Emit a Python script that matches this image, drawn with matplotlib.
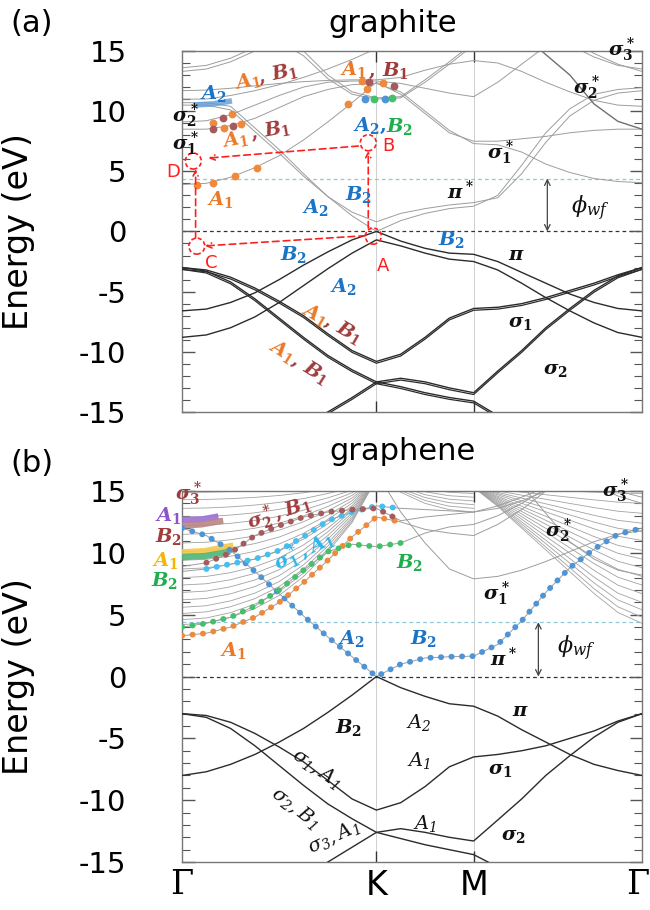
import numpy as np
import matplotlib
matplotlib.use('Agg')
import matplotlib.pyplot as plt
from matplotlib.patches import Ellipse
from matplotlib import transforms

plt.rcParams['font.family'] = 'DejaVu Sans'
plt.rcParams['axes.unicode_minus'] = False
plt.rcParams['mathtext.fontset'] = 'custom'
plt.rcParams['mathtext.it'] = 'DejaVu Serif:italic:bold'
plt.rcParams['mathtext.rm'] = 'DejaVu Serif:bold'
plt.rcParams['mathtext.bf'] = 'DejaVu Serif:bold'
plt.rcParams['mathtext.sf'] = 'DejaVu Serif:italic'

N = None

# k-path  Γ -> K -> M -> Γ
k = [0, 0.125, 0.25, 0.375, 0.5, 0.625, 0.75, 0.875, 1.0,
     1.125, 1.25, 1.375, 1.5,
     1.624, 1.747, 1.871, 1.995, 2.119, 2.242, 2.366]
k_ticks = [0, 1.0, 1.5, 2.366]
k_names = ['Γ', 'K', 'M', 'Γ']
e_fermi = 0.0
e_vac = 4.4

# ---------------- graphite (a) ----------------
a_pi1 = [-6.6, -6.45, -5.9, -5.1, -4.0, -2.8, -1.7, -0.7, 0.0, -0.8, -1.4, -1.8, -1.9, -2.5, -3.4, -4.3, -5.2, -5.9, -6.4, -6.6]
a_pi2 = [-8.8, -8.6, -8.0, -7.1, -5.9, -4.5, -3.1, -1.8, -0.7, -1.2, -1.8, -2.3, -2.5, -3.2, -4.3, -5.5, -6.6, -7.6, -8.4, -8.8]
a_s1 = [-3.0, -3.2, -3.8, -4.7, -5.8, -7.0, -8.5, -9.9, -10.8, -10.2, -8.8, -7.2, -6.4, -6.3, -6.0, -5.5, -4.9, -4.3, -3.6, -3.0]
a_s2 = [-3.0, -3.3, -4.2, -5.6, -7.2, -8.8, -10.3, -11.5, -12.5, -12.9, -13.4, -13.8, -14.1, -15.3, -16.4, -17.4, -18.3, -19.0, -19.5, -19.7]
a_s3 = [-19.5, -19.3, -18.8, -18.0, -17.1, -16.1, -15.0, -13.8, -12.5, -12.2, -12.5, -13.0, -13.4, -11.6, -9.9, -8.0, -6.4, -4.9, -3.7, -3.0]

a_p1 = [10.7, 10.7, 10.4, 8.6, 6.8, 4.8, 2.9, 1.3, 0.0, 0.9, 1.5, 1.9, 2.1, 3.0, 5.5, 8.2, 10.2, 11.4, 11.8, 11.95]
a_p2 = [10.5, 10.5, 10.1, 8.3, 6.5, 4.6, 2.9, 1.6, 0.8, 1.5, 1.9, 2.2, 2.4, 2.8, 4.8, 7.4, 9.6, 10.9, 11.5, 11.7]
a_g1 = [3.9, 4.0, 4.5, 5.3, 6.3, 7.6, 9.1, 10.7, 12.4, 11.4, 9.8, 8.2, 7.5, 7.5, 7.7, 7.9, 8.2, 8.4, 8.5, 8.5]
a_g2 = [8.5, 8.5, 8.8, 9.4, 10.3, 11.2, 11.8, 12.2, 12.3, 11.6, 10.0, 8.4, 7.3, 7.2, 6.6, 5.6, 4.9, 4.4, 4.15, 4.05]
a_g3 = [9.1, 9.2, 9.7, 10.5, 11.3, 12.0, 12.4, 12.5, 12.5, 12.3, 11.9, 11.5, 11.2, 12.4, 13.9, 15.4, N, N, N, N]
a_g4 = [11.7, 11.75, 11.9, 12.1, 12.3, 12.45, 12.55, 12.6, 12.6, 12.8, 13.4, 13.9, 14.2, 14.0, 13.3, 12.4, 11.6, 10.9, 10.5, 10.4]
a_g5 = [11.0, 11.0, 11.3, 11.7, 12.2, 12.8, 13.5, 14.3, 15.2, N, N, N, N, N, N, N, N, N, N, N]
a_g6 = [N, N, N, N, 15.8, 14.6, 12.7, 11.4, 11.0, 11.1, 12.4, 13.9, 15.5, N, N, N, N, N, N, N]
a_g7 = [N, N, N, N, 16.2, 15.0, 13.0, 11.6, 11.1, 11.2, 12.6, 14.1, 15.7, N, N, N, N, N, N, N]
a_t1 = [13.6, 13.8, 14.4, 15.3, 16.5, N, N, N, N, N, N, N, N, N, N, N, N, N, N, N]
a_t2 = [13.3, 13.5, 14.1, 15.0, 16.2, N, N, N, N, N, N, N, N, N, N, N, N, N, N, N]
a_s2c = [N, N, N, N, N, N, N, N, N, N, N, N, N, N, 16.5, 14.7, 13.0, 10.6, 9.15, 8.5]
a_s3c1 = [N, N, N, N, N, N, N, N, N, N, N, N, N, N, N, N, 15.5, 14.5, 13.8, 13.5]
a_s3c2 = [N, N, N, N, N, N, N, N, N, N, N, N, N, N, N, N, 15.9, 14.8, 13.9, 13.3]

# coloured symmetry dots on graphite bands (k, E)
a_dot_orange_k = [0.076, 0.161, 0.273, 0.387, 0.161, 0.259, 0.216, 0.303, 0.855, 0.950, 0.924, 1.036]
a_dot_orange_e = [3.9, 4.05, 4.6, 5.3, 9.0, 9.8, 8.6, 8.9, 10.6, 11.8, 12.5, 12.3]
a_dot_brown_k = [0.209, 0.161, 0.264, 0.963, 1.092]
a_dot_brown_e = [9.4, 8.5, 8.8, 12.4, 12.1]
a_dot_blue_k = [0.941, 1.044]
a_dot_blue_e = [11.0, 11.0]
a_dot_green_k = [0.990, 1.079]
a_dot_green_e = [11.0, 11.05]
a_bar_blue_k = [0.057, 0.16, 0.257]
a_bar_blue_e = [10.5, 10.6, 10.85]

# transition circles A, B, C, D (k, E)
circ_names = ['A', 'B', 'C', 'D']
circ_k = [0.984, 0.958, 0.076, 0.058]
circ_e = [-0.39, 7.37, -1.22, 5.85]

# ---------------- graphene (b) ----------------
b_pi = [-8.0, -7.7, -7.1, -6.3, -5.3, -4.2, -2.9, -1.5, 0.0, -0.9, -1.6, -2.2, -2.4, -3.2, -4.3, -5.3, -6.3, -7.1, -7.6, -8.0]
b_s1 = [-3.0, -3.15, -3.7, -4.6, -5.7, -6.9, -8.4, -9.9, -10.8, -10.2, -8.9, -7.3, -6.5, -6.3, -6.0, -5.6, -5.0, -4.4, -3.6, -3.0]
b_s2 = [-3.0, -3.3, -4.2, -5.6, -7.2, -8.8, -10.3, -11.5, -12.6, -13.1, -13.6, -14.0, -14.4, -15.4, -16.4, -17.4, -18.3, -19.0, -19.5, -19.7]
b_s3 = [-19.5, -19.3, -18.8, -18.0, -17.1, -16.1, -15.0, -13.8, -12.6, -12.3, -12.6, -13.0, -13.3, -11.6, -9.9, -8.0, -6.4, -4.9, -3.7, -3.0]

b_pistar = [12.0, 11.4, 10.2, 8.5, 6.7, 4.9, 3.2, 1.6, 0.0, 1.0, 1.5, 1.6, 1.65, 2.6, 4.5, 6.8, 8.8, 10.3, 11.5, 12.0]
b_a1 = [3.3, 3.5, 4.0, 4.8, 6.0, 7.6, 9.4, 11.3, 12.9, 12.5, 11.9, 11.6, 11.4, 12.3, 13.5, 15.0, N, N, N, N]
b_b2 = [4.0, 4.3, 4.8, 5.7, 7.0, 8.6, 10.1, 10.7, 10.5, 10.8, 11.6, 12.1, 12.3, 13.0, 14.0, 15.2, N, N, N, N]
b_s1a1 = [8.5, 8.7, 9.1, 9.5, 10.2, 11.3, 12.6, 13.3, 13.8, 13.6, 13.5, 13.4, 13.3, 13.6, 14.2, 15.0, N, N, N, N]
b_s2b1 = [8.9, 9.2, 10.0, 11.4, 12.2, 12.9, 13.3, 13.5, 13.6, 12.6, 12.9, 13.1, 13.3, 13.8, 14.5, 15.3, N, N, N, N]
b_s1c = [N, N, N, N, N, N, N, N, 16.5, 13.3, 10.8, 8.7, 7.9, 8.1, 8.6, 9.3, 10.1, 10.9, 11.5, 11.8]
b_s2c = [N, N, N, N, N, N, N, N, N, N, N, N, N, N, 15.5, 13.2, 10.9, 9.5, 8.6, 8.2]
b_s3c1 = [N, N, N, N, N, N, N, N, N, N, N, N, N, N, N, N, N, 15.5, 14.6, 14.0]
b_s3c2 = [N, N, N, N, N, N, N, N, N, N, N, N, N, N, N, N, N, 15.8, 15.0, 14.5]

# near-free-electron (vacuum) state families
b_fan_gk_e0 = [4.2, 4.6, 5.1, 5.6, 6.2, 6.8, 7.4, 8.0, 8.7, 9.4, 10.1, 10.8, 11.5, 12.2, 12.9, 13.6, 14.3, 14.9]
b_fan_gk_shape = [0, 0.012, 0.05, 0.11, 0.2, 0.33, 0.5, 0.7, 1.0]
b_fan_gk_top = 16.0
b_fan_mg_e0 = [4.3, 4.8, 5.4, 6.0, 6.7, 7.4, 8.1, 8.8, 9.5, 10.2, 11.0, 11.7, 12.4, 13.2, 14.0, 14.8]
b_fan_mg_shape = [1.0, 0.86, 0.70, 0.54, 0.38, 0.22, 0.08, 0.0]
b_fan_mg_top = 15.3
b_fan_km_em = [13.3, 13.6, 13.9, 14.2, 14.5, 14.8]
b_fan_km_shape = [1.0, 0.5, 0.22, 0.06, 0.0]
b_fan_km_top = 16.5

# coloured highlight bars at Γ (k, E)
b_bar_k = [[0, 0.1, 0.187], [0, 0.1, 0.212], [0, 0.12, 0.264], [0, 0.12, 0.247]]
b_bar_e = [[12.65, 12.7, 12.95], [12.2, 12.3, 12.6], [10.05, 10.15, 10.6], [9.65, 9.75, 10.1]]

ORANGE = '#ea7a28'
BROWN = '#a03c3c'
BLUE = '#1c74c6'
GREEN = '#20ad4e'
CYAN = '#2cb5ee'
PURPLE = '#8c55c8'
YELLOW = '#f2b705'
RED = '#ff1f1f'
DOT_BLUE = '#4f95d6'
DOT_ORANGE = '#ef8a3c'
DOT_GREEN = '#45c06a'
DOT_BROWN = '#a65a5c'
DOT_CYAN = '#45bff0'
VAL = '#2b2b2b'
CON = '#9d9d9d'

kk = np.array(k, dtype=float)


def arr(v):
    return np.array(v, dtype=float)


def dotted(ax, y, i0, i1, color):
    ax.plot(kk[i0:i1], arr(y)[i0:i1], color=color, lw=4.2, linestyle=(0, (0.05, 1.75)),
            dash_capstyle='round', zorder=5)


def setup(ax):
    ax.set_xlim(0, k[-1])
    ax.set_ylim(-15, 15)
    for kv in [1.0, 1.5]:
        ax.axvline(kv, color='#c8c8c8', lw=0.6, zorder=0)
    ax.axhline(e_fermi, color='#333333', lw=0.9, ls=(0, (3, 2.5)), zorder=1)
    ax.axhline(e_vac, color='#8ec9da', lw=0.9, ls=(0, (3, 2.5)), zorder=1)
    ax.set_yticks([-15, -10, -5, 0, 5, 10, 15])
    ax.set_yticks(np.arange(-15, 16, 1), minor=True)
    ax.tick_params(axis='y', which='both', direction='in', left=True, right=True,
                   color='#555555', labelsize=21, pad=40)
    ax.tick_params(axis='y', which='major', length=9, width=1.0)
    ax.tick_params(axis='y', which='minor', length=6, width=0.8)
    ax.tick_params(axis='x', which='major', direction='in', top=True, bottom=True,
                   length=8, width=1.0, color='#333333')
    ax.set_xticks([1.0, 1.5])
    ax.set_xticklabels([])
    for s in ax.spines.values():
        s.set_color('#777777')
        s.set_linewidth(1.0)
    ax.set_ylabel('Energy (eV)', fontsize=24)
    ax.yaxis.set_label_coords(-0.32, 0.5)


def label(ax, txt, kx, e, color='#111111', rot=0, size=14):
    ax.text(kx, e, txt, color=color, rotation=rot, fontsize=size, ha='center', va='center',
            rotation_mode='anchor', zorder=8)


fig = plt.figure(figsize=(6.5, 9.1), dpi=100)
axa = fig.add_axes([0.28, 0.5473, 0.7077, 0.3967])
axb = fig.add_axes([0.28, 0.0527, 0.7077, 0.4077])

# ---- panel (a) graphite ----
setup(axa)
twin = transforms.offset_copy(axa.transData, fig=fig, x=0, y=-1.3, units='points')
for y in [a_p1, a_p2, a_g1, a_g2, a_g3, a_g4, a_g5, a_g6, a_g7, a_t1, a_t2, a_s3c1, a_s3c2]:
    axa.plot(kk, arr(y), color=CON, lw=0.7, zorder=2)
axa.plot(kk, arr(a_s2c), color='#707070', lw=1.0, zorder=2)
for y in [a_pi1, a_pi2]:
    axa.plot(kk, arr(y), color=VAL, lw=1.0, zorder=3)
for y in [a_s1, a_s2, a_s3]:
    axa.plot(kk, arr(y), color=VAL, lw=1.0, zorder=3)
    axa.plot(kk, arr(y), color=VAL, lw=0.9, zorder=3, transform=twin)
axa.plot(a_bar_blue_k, a_bar_blue_e, color='#5f9ad8', lw=4, alpha=0.8, solid_capstyle='butt', zorder=4)
axa.plot(a_dot_orange_k, a_dot_orange_e, 'o', ms=4.6, color=DOT_ORANGE, zorder=5)
axa.plot(a_dot_brown_k, a_dot_brown_e, 'o', ms=4.6, color=DOT_BROWN, zorder=5)
axa.plot(a_dot_blue_k, a_dot_blue_e, 'o', ms=4.6, color=DOT_BLUE, zorder=5)
axa.plot(a_dot_green_k, a_dot_green_e, 'o', ms=4.6, color=DOT_GREEN, zorder=5)

# red transition markers
for name, ck, ce in zip(circ_names, circ_k, circ_e):
    axa.add_patch(Ellipse((ck, ce), 0.082, 1.33, fill=False, ec=RED, lw=1.2, ls=(0, (2.5, 1.5)), zorder=7))
arrow = dict(arrowstyle='->', color=RED, lw=1.2, linestyle=(0, (4, 2.5)), shrinkA=0, shrinkB=0, mutation_scale=9)
axa.annotate('', xy=(0.958, 6.7), xytext=(0.958, 0.28), arrowprops=arrow, zorder=7)
axa.annotate('', xy=(0.118, -1.2), xytext=(0.944, -0.35), arrowprops=arrow, zorder=7)
axa.annotate('', xy=(0.07, 5.18), xytext=(0.07, -0.55), arrowprops=arrow, zorder=7)
axa.annotate('', xy=(0.135, 6.1), xytext=(0.907, 7.1), arrowprops=arrow, zorder=7)
for name, tk, te in zip(circ_names, [1.032, 1.061, 0.153, -0.045], [-2.9, 7.1, -2.6, 4.9]):
    axa.text(tk, te, name, color=RED, fontsize=13, ha='center', va='center', clip_on=False)

axa.annotate('', xy=(1.879, 0), xytext=(1.879, e_vac),
             arrowprops=dict(arrowstyle='<->', color='#444444', lw=0.9, shrinkA=0, shrinkB=0))

label(axa, r'$A_2$', 0.161, 11.5, BLUE)
label(axa, r'$A_1$', 0.341, 12.5, ORANGE, 12)
label(axa, r'$,\,B_1$', 0.494, 13.1, BROWN, 12)
label(axa, r'$\sigma_2^*$', 0.02, 9.6)
label(axa, r'$\sigma_1^*$', 0.02, 7.3)
label(axa, r'$A_1$', 0.273, 7.65, ORANGE, 10)
label(axa, r'$,\,B_1$', 0.453, 8.4, BROWN, 10)
label(axa, r'$A_1$', 0.195, 2.66, ORANGE)
label(axa, r'$A_2$', 0.684, 1.97, BLUE)
label(axa, r'$B_2$', 0.907, 3.1, BLUE)
label(axa, r'$A_2,$', 0.965, 8.8, BLUE)
label(axa, r'$B_2$', 1.121, 8.75, GREEN)
label(axa, r'$A_1$', 0.881, 13.5, ORANGE)
label(axa, r'$,\,B_1$', 1.06, 13.3, BROWN)
label(axa, r'$B_2$', 0.573, -1.9, BLUE)
label(axa, r'$A_2$', 0.830, -4.6, BLUE)
label(axa, r'$A_1$', 0.684, -6.9, ORANGE, -30)
label(axa, r'$,\,B_1$', 0.828, -8.15, BROWN, -30)
label(axa, r'$A_1$', 0.513, -9.95, ORANGE, -32)
label(axa, r'$,\,B_1$', 0.658, -11.5, BROWN, -32)
label(axa, r'$B_2$', 1.387, -0.66, BLUE)
label(axa, r'$\pi$', 1.718, -1.9)
label(axa, r'$\pi^*$', 1.43, 3.35)
label(axa, r'$\sigma_1^*$', 1.636, 6.5)
label(axa, r'$\sigma_2^*$', 2.082, 11.9)
label(axa, r'$\sigma_3^*$', 2.262, 15.1)
label(axa, r'$\sigma_1$', 1.739, -7.6)
label(axa, r'$\sigma_2$', 1.919, -11.5)
label(axa, r'$\mathsf{\phi_{wf}}$', 2.099, 1.9, size=16)

# ---- panel (b) graphene ----
setup(axb)
xlab_tr = transforms.blended_transform_factory(axb.transData, axb.transAxes)
for kv, name, dx in zip(k_ticks, k_names, [0.0, 0.0, 0.0, -0.02]):
    fam = 'DejaVu Serif' if name == 'Γ' else 'DejaVu Sans'
    axb.text(kv + dx, -0.02, name, transform=xlab_tr, fontsize=24, family=fam,
             ha='center', va='top')

for e0 in b_fan_gk_e0:
    axb.plot(kk[0:9], e0 + (b_fan_gk_top - e0) * arr(b_fan_gk_shape), color='#a2a2a2', lw=0.6, zorder=2)
for e0 in b_fan_mg_e0:
    axb.plot(kk[12:20], e0 + (b_fan_mg_top - e0) * arr(b_fan_mg_shape), color='#a2a2a2', lw=0.6, zorder=2)
for em in b_fan_km_em:
    axb.plot(kk[8:13], em + (b_fan_km_top - em) * arr(b_fan_km_shape), color='#a2a2a2', lw=0.6, zorder=2)
for y in [b_pistar, b_a1, b_b2, b_s1a1, b_s2b1, b_s1c, b_s2c, b_s3c1, b_s3c2]:
    axb.plot(kk, arr(y), color=CON, lw=0.7, zorder=2)
for y in [b_pi, b_s1, b_s2, b_s3]:
    axb.plot(kk, arr(y), color=VAL, lw=1.0, zorder=3)

for bk, be, bc in zip(b_bar_k, b_bar_e, ['#9c6fd6', '#b98585', '#f4c84a', '#4fb577']):
    axb.plot(bk, be, color=bc, lw=4.5, alpha=0.9, solid_capstyle='butt', zorder=4)

dotted(axb, b_pistar, 0, 20, DOT_BLUE)
dotted(axb, b_a1, 0, 10, DOT_ORANGE)
dotted(axb, b_b2, 0, 10, DOT_GREEN)
dotted(axb, b_s1a1, 1, 10, DOT_CYAN)
dotted(axb, b_s2b1, 1, 10, DOT_BROWN)

axb.annotate('', xy=(1.833, 0), xytext=(1.833, e_vac),
             arrowprops=dict(arrowstyle='<->', color='#444444', lw=0.9, shrinkA=0, shrinkB=0))

label(axb, r'$\sigma_3^*$', 0.032, 14.8, BROWN)
label(axb, r'$A_1$', -0.07, 13.0, PURPLE)
label(axb, r'$B_2$', -0.07, 11.3, BROWN)
label(axb, r'$A_1$', -0.087, 9.4, YELLOW)
label(axb, r'$B_2$', -0.087, 7.8, GREEN)
label(axb, r'$\sigma_2^*, B_1$', 0.5, 13.2, BROWN, 18)
label(axb, r'$\sigma_1^*, A_1$', 0.63, 10.1, CYAN, 25)
label(axb, r'$B_2$', 1.173, 9.2, GREEN)
label(axb, r'$A_1$', 0.264, 2.1, ORANGE)
label(axb, r'$A_2$', 0.873, 3.05, BLUE)
label(axb, r'$B_2$', 1.241, 3.1, BLUE)
label(axb, r'$\sigma_1^*$', 1.619, 6.7)
label(axb, r'$\pi^*$', 1.653, 1.5)
label(axb, r'$\sigma_2^*$', 1.936, 11.8)
label(axb, r'$\sigma_3^*$', 2.227, 15.0)
label(axb, r'$\mathsf{\phi_{wf}}$', 2.03, 2.25, size=16)
label(axb, r'$\pi$', 1.739, -2.75)
label(axb, r'$B_2$', 0.856, -4.1)
label(axb, r'$\mathsf{A_2}$', 1.216, -3.7)
label(axb, r'$\mathsf{A_1}$', 1.216, -6.8)
label(axb, r'$\sigma_1$', 1.636, -7.5)
label(axb, r'$\mathsf{\sigma_1, A_1}$', 0.693, -7.45, rot=-35)
label(axb, r'$\mathsf{\sigma_2, B_1}$', 0.581, -10.6, rot=-38)
label(axb, r'$\mathsf{\sigma_3, A_1}$', 0.778, -13.0, rot=25)
label(axb, r'$\mathsf{A_1}$', 1.25, -11.9)
label(axb, r'$\sigma_2$', 1.704, -12.85)

fig.text(393 / 650, 1 - 24 / 910, 'graphite', fontsize=22, ha='center', va='center')
fig.text(402 / 650, 1 - 452 / 910, 'graphene', fontsize=22, ha='center', va='center')
fig.text(32 / 650, 1 - 24 / 910, '(a)', fontsize=22, ha='center', va='center')
fig.text(32 / 650, 1 - 464 / 910, '(b)', fontsize=22, ha='center', va='center')

fig.savefig('out.png', dpi=100)
